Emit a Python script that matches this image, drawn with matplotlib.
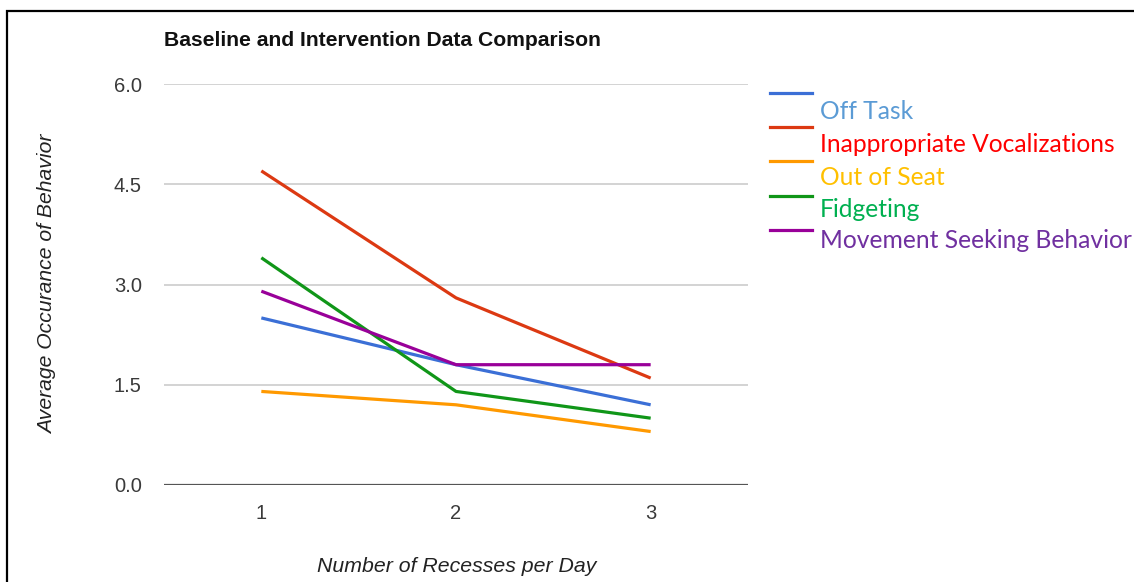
import matplotlib
matplotlib.use("Agg")
import matplotlib.pyplot as plt
from matplotlib.lines import Line2D
from matplotlib.patches import Rectangle

# ---- data ----
recesses = [1, 2, 3]
series_names = ["Off Task", "Inappropriate Vocalizations", "Out of Seat",
                "Fidgeting", "Movement Seeking Behavior"]
off_task = [2.5, 1.8, 1.2]
inappropriate_vocalizations = [4.7, 2.8, 1.6]
out_of_seat = [1.4, 1.2, 0.8]
fidgeting = [3.4, 1.4, 1.0]
movement_seeking = [2.9, 1.8, 1.8]
y_ticks = [0.0, 1.5, 3.0, 4.5, 6.0]
y_tick_labels = ["0.0", "1.5", "3.0", "4.5", "6.0"]

line_colors = ["#3b6fd6", "#dc3912", "#ff9900", "#109618", "#990099"]
label_colors = ["#5b9bd5", "#ff0000", "#ffc000", "#00b050", "#7030a0"]

W, H = 1134, 582
fig = plt.figure(figsize=(W / 100, H / 100), dpi=100)

def fx(px):
    return px / W

def fy(py):
    return 1 - py / H

ax = fig.add_axes([fx(164), fy(485), (748 - 164) / W, (485 - 84) / H])

values = [off_task, inappropriate_vocalizations, out_of_seat, fidgeting, movement_seeking]
for vals, col in zip(values, line_colors):
    ax.plot(recesses, vals, color=col, lw=2.3, solid_capstyle="butt", zorder=3)

ax.set_xlim(0.5, 3.5)
ax.set_ylim(0, 6)
ax.set_yticks(y_ticks)
ax.set_yticklabels(y_tick_labels)
ax.set_xticks(recesses)
ax.set_xticklabels([str(r) for r in recesses])
for v in y_ticks[1:]:
    ax.axhline(v, color="#cccccc", lw=1.2, zorder=1)
ax.axhline(0, color="#555555", lw=1.6, zorder=2)
for s in ax.spines.values():
    s.set_visible(False)
ax.tick_params(length=0, labelsize=14.5, labelcolor="#3a3a3a",
               labelfontfamily="Liberation Sans")
ax.tick_params(axis="y", pad=16)
ax.tick_params(axis="x", pad=14)

# title and axis titles
fig.text(fx(164), fy(40), "Baseline and Intervention Data Comparison",
         fontsize=15.2, fontweight="bold", family="Liberation Sans",
         color="#111111", ha="left", va="center")
fig.text(fx(48), fy(284), "Average Occurance of Behavior", rotation=90,
         fontsize=15.2, style="italic", family="Liberation Sans",
         color="#222222", ha="center", va="center")
fig.text(fx(457), fy(567), "Number of Recesses per Day",
         fontsize=15.3, style="italic", family="Liberation Sans",
         color="#222222", ha="center", va="center")

# legend
line_y = [93, 127, 161, 196, 230]
text_base = [119, 152, 185, 217, 248]
for name, lc, tc, ly, tb in zip(series_names, line_colors, label_colors, line_y, text_base):
    fig.add_artist(Line2D([fx(770), fx(812)], [fy(ly), fy(ly)], color=lc, lw=2.3,
                          transform=fig.transFigure))
    fig.text(fx(820), fy(tb), name, color=tc, fontsize=17.7, family="Lato",
             ha="left", va="baseline")

# outer frame
fig.add_artist(Rectangle((fx(7), fy(H + 20)), fx(W + 40), fy(11) - fy(H + 20),
                         fill=False, edgecolor="black", lw=1.6,
                         transform=fig.transFigure))

fig.savefig("out.png", dpi=100, facecolor="white")
